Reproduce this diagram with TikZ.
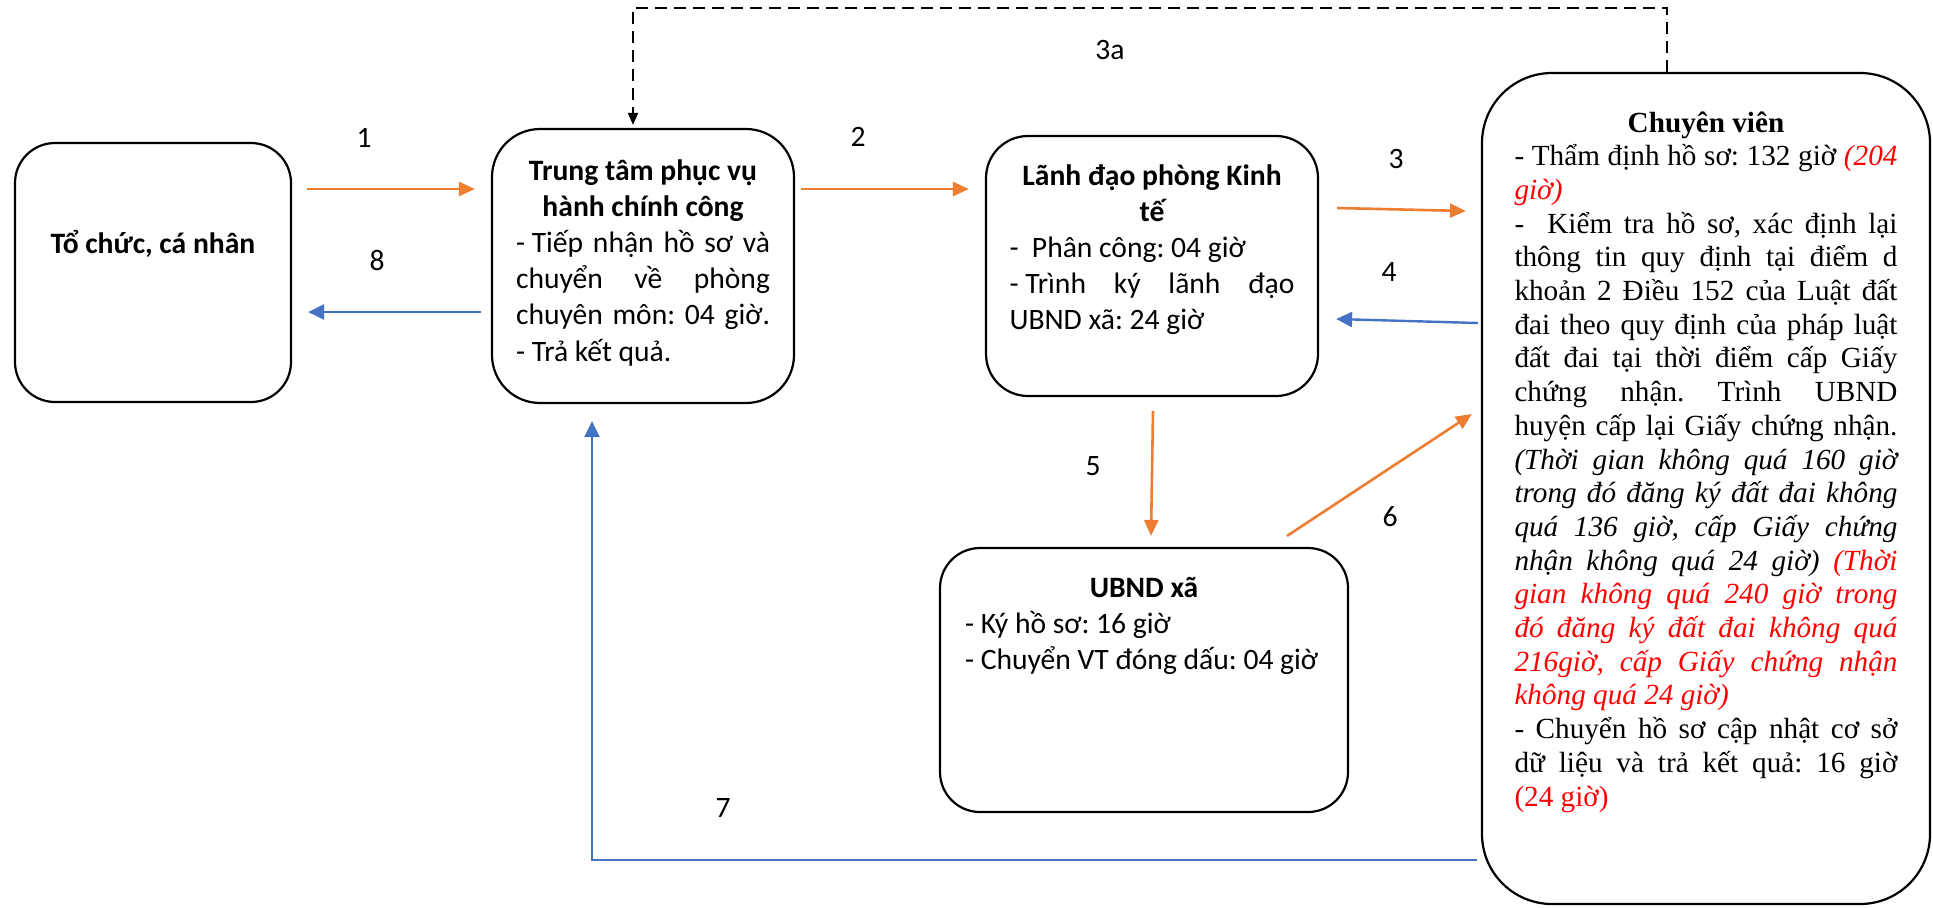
\documentclass[tikz,border=0pt]{standalone}
\usepackage{fontspec}
\setmainfont{Carlito}
\newfontfamily\tnr{Liberation Serif}
\usetikzlibrary{arrows.meta,calc}
\definecolor{org}{HTML}{ED7D31}
\definecolor{blu}{HTML}{4472C4}
\definecolor{tred}{HTML}{FF0000}
\frenchspacing
\newcommand{\jl}[1]{\makebox[\linewidth][s]{#1}\par}
\newcommand{\lfl}[1]{\makebox[\linewidth][l]{#1}\par}
\newcommand{\bxc}[4]{\begin{minipage}[c][#2][t]{#1}\centering\begin{minipage}[t]{#3}\frenchspacing #4\end{minipage}\end{minipage}}
\begin{document}
\begin{tikzpicture}[x=0.5pt,y=-0.5pt,
  box/.style={draw, line width=1.1pt, inner sep=0pt},
  lbl/.style={inner sep=0pt, font=\fontsize{14.8}{18}\selectfont},
  oarr/.style={draw=org, line width=1.3pt, -{Triangle[length=8pt,width=7pt]}},
  barr/.style={draw=blu, line width=1.2pt, -{Triangle[length=8pt,width=7.5pt]}},
  darr/.style={draw=black, line width=1pt, dash pattern=on 6pt off 3.5pt, -{Triangle[length=6pt,width=5pt]}},
  cal/.style={font=\fontsize{14.8}{18.1}\selectfont}
]
\useasboundingbox (0,0) rectangle (1933,907);

% boxes
\node[box, rounded corners=20pt, cal] (A) at (153,272.5) {\bxc{138pt}{129.5pt}{120pt}{\centering\bfseries\rule{0pt}{55pt}Tổ chức, cá nhân\par}};

\node[box, rounded corners=24pt, cal] (B) at (643,266) {\bxc{151pt}{137pt}{127pt}{%
{\centering\bfseries\rule{0pt}{25.5pt}Trung tâm phục vụ\\ hành chính công\par}
\jl{\mbox{- Tiếp} nhận hồ sơ và}
\jl{chuyển về phòng}
\jl{chuyên môn: 04 giờ.}
\lfl{- Trả kết quả.}}};

\node[box, rounded corners=21pt, cal] (C) at (1152,266) {\bxc{166pt}{130pt}{142.5pt}{%
{\centering\bfseries\rule{0pt}{24.5pt}Lãnh đạo phòng Kinh\\ tế\par}
\lfl{-\ \ Phân công: 04 giờ}
\jl{\mbox{- Trình} ký lãnh đạo}
\lfl{UBND xã: 24 giờ}}};

\node[box, rounded corners=20pt, cal] (D) at (1144,680) {\bxc{204pt}{132pt}{179pt}{%
{\centering\bfseries\rule{0pt}{24.5pt}UBND xã\par}
\lfl{- Ký hồ sơ: 16 giờ}
\lfl{- Chuyển VT đóng dấu: 04 giờ}}};

\node[box, rounded corners=35pt, font=\tnr\fontsize{14.6}{16.85}\selectfont] (E) at (1706,488.5) {\bxc{224pt}{415.5pt}{191.5pt}{%
\tnr\fontsize{14.6}{16.85}\selectfont
{\centering\bfseries\rule{0pt}{29.5pt}Chuyên viên\par}
\jl{- Thẩm định hồ sơ: 132 giờ {\color{tred}\itshape (204}}
\lfl{{\color{tred}\itshape giờ)}}
\jl{-\ \ Kiểm tra hồ sơ, xác định lại}
\jl{thông tin quy định tại điểm d}
\jl{khoản 2 Điều 152 của Luật đất}
\jl{đai theo quy định của pháp luật}
\jl{đất đai tại thời điểm cấp Giấy}
\jl{chứng nhận. Trình UBND}
\jl{huyện cấp lại Giấy chứng nhận.}
\jl{\itshape (Thời gian không quá 160 giờ}
\jl{\itshape trong đó đăng ký đất đai không}
\jl{\itshape quá 136 giờ, cấp Giấy chứng}
\jl{\itshape nhận không quá 24 giờ) {\color{tred}(Thời}}
\jl{\color{tred}\itshape gian không quá 240 giờ trong}
\jl{\color{tred}\itshape đó đăng ký đất đai không quá}
\jl{\color{tred}\itshape 216giờ, cấp Giấy chứng nhận}
\lfl{\color{tred}\itshape không quá 24 giờ)}
\jl{- Chuyển hồ sơ cập nhật cơ sở}
\jl{dữ liệu và trả kết quả: 16 giờ}
\lfl{\color{tred}(24 giờ)}}};

% connectors
\draw[oarr] ($(A.east)+(15,-83.5)$) -- ($(B.west)+(-16,-77)$);
\draw[barr] ($(B.west)+(-10,46)$) -- ($(A.east)+(16,39.5)$);
\draw[oarr] ($(B.east)+(6,-77)$) -- ($(C.west)+(-16,-77)$);
\draw[oarr] ($(C.east)+(18,-58)$) -- ($(E.west)+(-15,-277.5)$);
\draw[barr] ($(E.west)+(-3,-165.5)$) -- ($(C.east)+(17,53)$);
\draw[oarr] ($(C.south)+(1,14)$) -- ($(D.north)+(7,-11)$);
\draw[oarr] ($(D.north)+(143,-11)$) -- ($(E.west)+(-9,-74.5)$);
\draw[barr] ($(E.west)+(-4,371.5)$) -| ($(B.south)+(-51,17)$);
\draw[darr] ($(E.north)+(-39,0)$) -- ++(0,-64) -| ($(B.north)+(-10,-3)$);

% labels
\node[lbl] (l1) at (364,138) {1};
\node[lbl] (l8) at (377,260) {8};
\node[lbl] (l2) at (858,137) {2};
\node[lbl] (l3) at (1396,159) {3};
\node[lbl] (l4) at (1389,272) {4};
\node[lbl] (l5) at (1093,466) {5};
\node[lbl] (l6) at (1390,517) {6};
\node[lbl] (l7) at (723,808) {7};
\node[lbl] (l3a) at (1110,50) {3a};
\end{tikzpicture}
\end{document}
